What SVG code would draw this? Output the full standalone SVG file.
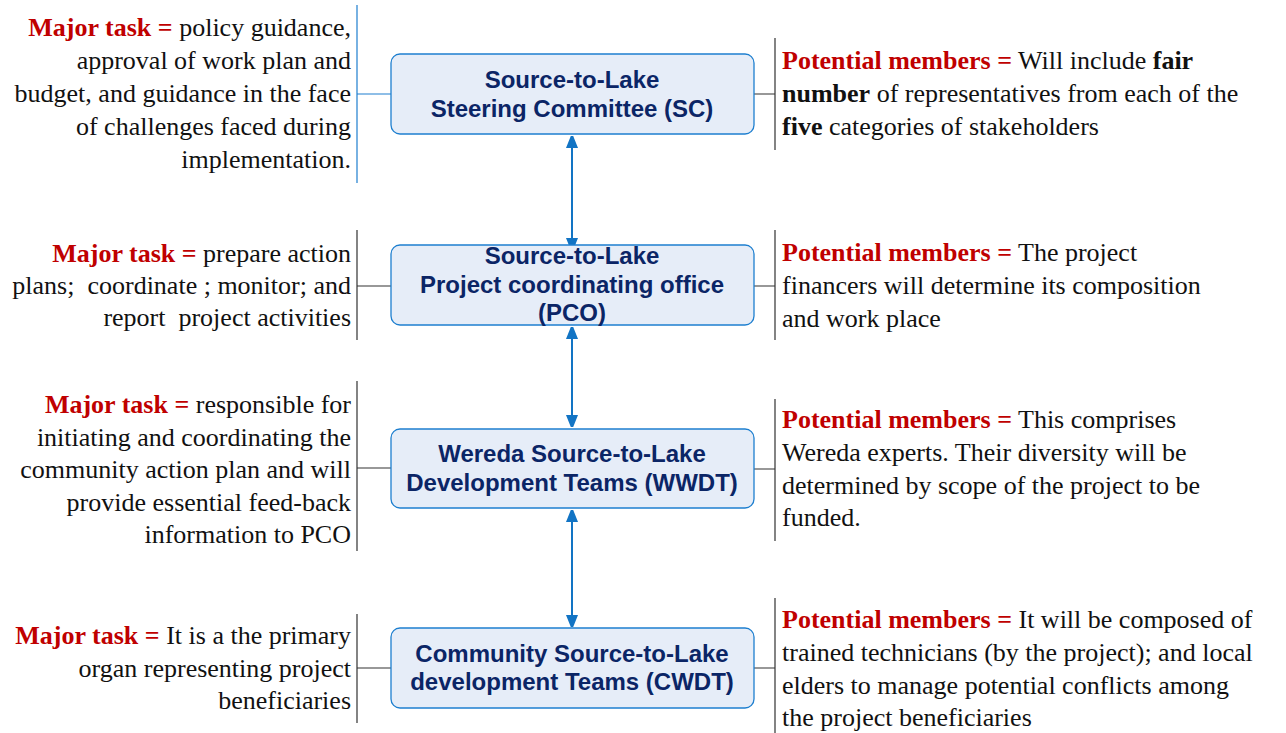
<svg xmlns="http://www.w3.org/2000/svg" width="1286" height="733" viewBox="0 0 1286 733">
<style>
.box{fill:#e6edf8;stroke:#1e7fcf;stroke-width:1.3}
.bt{font-family:"Liberation Sans",Arial,sans-serif;font-weight:bold;font-size:24px;fill:#0b2566;text-anchor:middle}
.tx{font-family:"Liberation Serif","Times New Roman",serif;font-size:26px;fill:#111;white-space:pre}
.l{text-anchor:end}
.r{fill:#c00000;font-weight:bold}
.b{font-weight:bold}
.br{stroke:#333;stroke-width:1.2;fill:none}
.brb{stroke:#1e7fcf;stroke-width:1.2;fill:none}
.ar{stroke:#1274c4;stroke-width:2;fill:none;marker-start:url(#ah);marker-end:url(#ah)}
</style>
<defs>
<marker id="ah" viewBox="0 0 12 16" refX="12" refY="6" markerWidth="12" markerHeight="16" markerUnits="userSpaceOnUse" orient="auto-start-reverse">
<path d="M0,0 L15,6 L0,12 Z" fill="#1274c4"/>
</marker>
</defs>
<rect width="1286" height="733" fill="#fff"/>
<g id="connectors">
<line class="ar" x1="572" y1="136" x2="572" y2="250"/>
<line class="ar" x1="572" y1="327" x2="572" y2="427"/>
<line class="ar" x1="572" y1="510" x2="572" y2="627"/>
<path class="brb" d="M357,5 V183 M357,94 H391"/>
<path class="br" d="M775,38 V150 M754,94 H775"/>
<path class="br" d="M357,230 V340 M357,286 H391"/>
<path class="br" d="M775,230 V340 M754,286 H775"/>
<path class="br" d="M357,381 V551 M357,468 H391"/>
<path class="br" d="M775,399 V541 M754,469 H775"/>
<path class="br" d="M357,614 V723 M357,668 H391"/>
<path class="br" d="M775,598 V733 M754,668 H775"/>
</g>
<g id="sc">
<rect class="box" x="391" y="54" width="363" height="80" rx="9"/>
<text class="bt" x="572" y="88">Source-to-Lake</text>
<text class="bt" x="572" y="117">Steering Committee (SC)</text>
</g>
<g id="pco">
<rect class="box" x="391" y="245" width="363" height="80" rx="9"/>
<text class="bt" x="572" y="264">Source-to-Lake</text>
<text class="bt" x="572" y="293">Project coordinating office</text>
<text class="bt" x="572" y="321">(PCO)</text>
</g>
<g id="wwdt">
<rect class="box" x="391" y="429" width="363" height="79" rx="9"/>
<text class="bt" x="572" y="462">Wereda Source-to-Lake</text>
<text class="bt" x="572" y="491">Development Teams (WWDT)</text>
</g>
<g id="cwdt">
<rect class="box" x="391" y="628" width="363" height="80" rx="9"/>
<text class="bt" x="572" y="662">Community Source-to-Lake</text>
<text class="bt" x="572" y="690">development Teams (CWDT)</text>
</g>
<g id="sc-task">
<text class="tx l" x="351" y="36"><tspan class="r">Major task =</tspan> policy guidance,</text>
<text class="tx l" x="351" y="69">approval of work plan and</text>
<text class="tx l" x="351" y="102">budget, and guidance in the face</text>
<text class="tx l" x="351" y="135">of challenges faced during</text>
<text class="tx l" x="351" y="168">implementation.</text>
</g>
<g id="sc-members">
<text class="tx" x="782" y="69"><tspan class="r">Potential members =</tspan> Will include <tspan class="b">fair</tspan></text>
<text class="tx" x="782" y="102"><tspan class="b">number</tspan> of representatives from each of the</text>
<text class="tx" x="782" y="135"><tspan class="b">five</tspan> categories of stakeholders</text>
</g>
<g id="pco-task">
<text class="tx l" x="351" y="262"><tspan class="r">Major task =</tspan> prepare action</text>
<text class="tx l" x="351" y="294">plans;  coordinate ; monitor; and</text>
<text class="tx l" x="351" y="326">report  project activities</text>
</g>
<g id="pco-members">
<text class="tx" x="782" y="261"><tspan class="r">Potential members =</tspan> The project</text>
<text class="tx" x="782" y="294">financers will determine its composition</text>
<text class="tx" x="782" y="327">and work place</text>
</g>
<g id="wwdt-task">
<text class="tx l" x="351" y="413"><tspan class="r">Major task =</tspan> responsible for</text>
<text class="tx l" x="351" y="446">initiating and coordinating the</text>
<text class="tx l" x="351" y="478">community action plan and will</text>
<text class="tx l" x="351" y="511">provide essential feed-back</text>
<text class="tx l" x="351" y="543">information to PCO</text>
</g>
<g id="wwdt-members">
<text class="tx" x="782" y="428"><tspan class="r">Potential members =</tspan> This comprises</text>
<text class="tx" x="782" y="461">Wereda experts. Their diversity will be</text>
<text class="tx" x="782" y="494">determined by scope of the project to be</text>
<text class="tx" x="782" y="526">funded.</text>
</g>
<g id="cwdt-task">
<text class="tx l" x="351" y="644"><tspan class="r">Major task =</tspan> It is a the primary</text>
<text class="tx l" x="351" y="677">organ representing project</text>
<text class="tx l" x="351" y="709">beneficiaries</text>
</g>
<g id="cwdt-members">
<text class="tx" x="782" y="628"><tspan class="r">Potential members =</tspan> It will be composed of</text>
<text class="tx" x="782" y="661">trained technicians (by the project); and local</text>
<text class="tx" x="782" y="694">elders to manage potential conflicts among</text>
<text class="tx" x="782" y="726">the project beneficiaries</text>
</g>
</svg>
